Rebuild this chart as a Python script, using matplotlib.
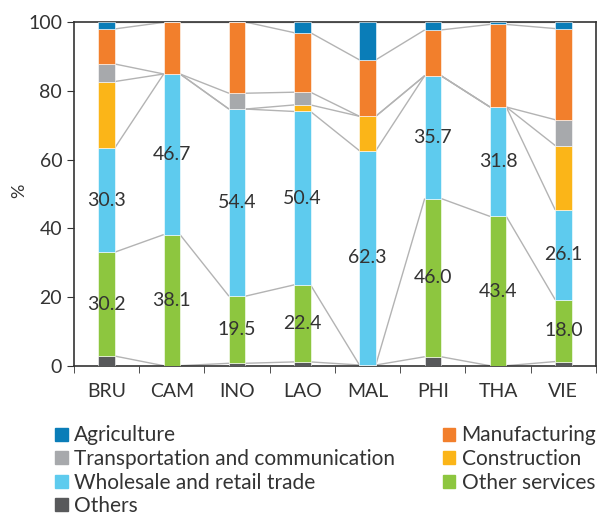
import numpy as np
import matplotlib.pyplot as plt
from matplotlib.patches import Patch

plt.rcParams['font.family'] = ['Lato', 'DejaVu Sans']

countries = ['BRU', 'CAM', 'INO', 'LAO', 'MAL', 'PHI', 'THA', 'VIE']

# sector shares (%), stacked bottom to top
others = [2.9, 0.1, 0.8, 1.2, 0.3, 2.7, 0.1, 1.3]
other_services = [30.2, 38.1, 19.5, 22.4, 0.0, 46.0, 43.4, 18.0]
wholesale = [30.3, 46.7, 54.4, 50.4, 62.3, 35.7, 31.8, 26.1]
construction = [19.3, 0.0, 0.0, 1.9, 10.0, 0.0, 0.0, 18.7]
transport = [5.1, 0.0, 4.6, 3.7, 0.0, 0.0, 0.0, 7.5]
manufacturing = [10.2, 15.0, 20.7, 17.3, 16.4, 13.3, 24.0, 26.5]
agriculture = [2.0, 0.1, 0.0, 3.1, 11.0, 2.3, 0.7, 1.9]

series = [
    ('Others', others, '#58595b'),
    ('Other services', other_services, '#8dc63f'),
    ('Wholesale and retail trade', wholesale, '#5ecbee'),
    ('Construction', construction, '#fbb518'),
    ('Transportation and communication', transport, '#a7a9ac'),
    ('Manufacturing', manufacturing, '#f27f2c'),
    ('Agriculture', agriculture, '#0a7db8'),
]
labelled = {'Other services', 'Wholesale and retail trade'}

fig = plt.figure(figsize=(6.0, 5.17), dpi=100)
ax = fig.add_axes([0.1233, 0.292, 0.87, 0.6654])

x = np.arange(len(countries))
w = 0.25
bottom = np.zeros(len(countries))
tops = []
for name, vals, col in series:
    vals = np.array(vals)
    ax.bar(x, vals, w, bottom=bottom, color=col, edgecolor='white',
           linewidth=0.4, zorder=3)
    if name in labelled:
        for xi, b, v in zip(x, bottom, vals):
            if v > 0:
                ax.text(xi, b + v / 2, f'{v:.1f}', ha='center', va='center',
                        fontsize=14, color='#333333', zorder=5)
    bottom = bottom + vals
    tops.append(bottom.copy())

# connector lines between neighbouring bars
for lvl in tops:
    for i in range(len(countries) - 1):
        ax.plot([x[i] + w / 2, x[i + 1] - w / 2], [lvl[i], lvl[i + 1]],
                color='#b3b3b3', lw=1, zorder=2, solid_capstyle='butt')

ax.set_xlim(-0.5, len(countries) - 0.5)
ax.set_ylim(0, 100)
ax.set_yticks(range(0, 101, 20))
ax.set_xticks(x)
ax.set_xticklabels(countries)
ax.set_xticks(np.arange(-0.5, len(countries)), minor=True)
ax.tick_params(axis='x', which='major', length=0, pad=12, labelsize=14,
               labelcolor='#333333')
ax.tick_params(axis='x', which='minor', length=5, direction='out',
               color='#333333')
ax.tick_params(axis='y', length=5, direction='out', labelsize=14,
               labelcolor='#333333', color='#333333')
ax.set_ylabel('%', fontsize=13, color='#333333')
ax.yaxis.set_label_coords(-0.09, 0.51)
for s in ax.spines.values():
    s.set_color('#333333')
    s.set_linewidth(1.2)

left_items = [('Agriculture', '#0a7db8'),
              ('Transportation and communication', '#a7a9ac'),
              ('Wholesale and retail trade', '#5ecbee'),
              ('Others', '#58595b')]
right_items = [('Manufacturing', '#f27f2c'),
               ('Construction', '#fbb518'),
               ('Other services', '#8dc63f')]

for items, xa in [(left_items, 0.0917), (right_items, 0.738)]:
    handles = [Patch(color=c, label=n) for n, c in items]
    fig.legend(handles=handles, loc='upper left', bbox_to_anchor=(xa, 0.177),
               frameon=False, fontsize=15, handlelength=0.6,
               handleheight=0.6, handletextpad=0.3, labelspacing=0.17,
               borderaxespad=0, borderpad=0, labelcolor='#333333')

fig.savefig('out.png', dpi=100)
